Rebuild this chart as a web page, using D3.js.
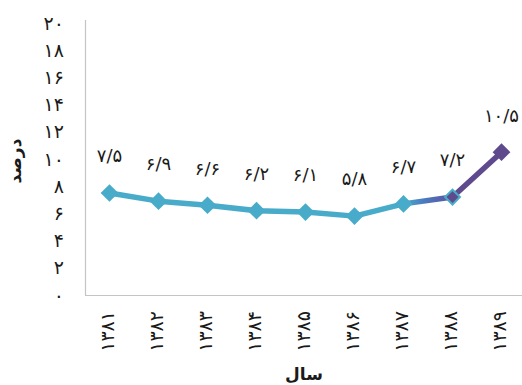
<!DOCTYPE html>
<html>
<head>
<meta charset="utf-8">
<script src="https://cdn.jsdelivr.net/npm/d3@7"></script>
<style>
  html, body { margin: 0; padding: 0; background: #fff; }
  svg { display: block; font-family: "DejaVu Sans", sans-serif; }
</style>
</head>
<body>
<svg id="chart" width="522" height="385"></svg>
<script>
// Years (Solar Hijri) and the yearly rate in percent
const years = ["۱۳۸۱", "۱۳۸۲", "۱۳۸۳", "۱۳۸۴", "۱۳۸۵", "۱۳۸۶", "۱۳۸۷", "۱۳۸۸", "۱۳۸۹"];
const values = [7.5, 6.9, 6.6, 6.2, 6.1, 5.8, 6.7, 7.2, 10.5];
const yTicks = [0, 2, 4, 6, 8, 10, 12, 14, 16, 18, 20];
const yTitle = "درصد";
const xTitle = "سال";

const faDigits = "۰۱۲۳۴۵۶۷۸۹";
const toFa = s => String(s).replace(/[0-9]/g, d => faDigits[+d]).replace(".", "/");

const teal = "#48abc9";
const purple = "#5e4a8c";
const ink = "#1a1a1a";

const svg = d3.select("#chart");
const plotLeft = 85, plotRight = 526, plotTop = 20, plotBottom = 295;

const x = d3.scaleBand().domain(years).range([plotLeft, plotRight]);
const cx = d => x(d) + x.bandwidth() / 2;
const y = d3.scaleLinear().domain([0, 20]).range([plotBottom, plotBottom - 272]);

// gradient for the line: teal, shifting into purple towards the last years
const defs = svg.append("defs");
const grad = defs.append("linearGradient")
  .attr("id", "lineGrad")
  .attr("gradientUnits", "userSpaceOnUse")
  .attr("x1", cx(years[6])).attr("x2", cx(years[8]))
  .attr("y1", 0).attr("y2", 0);
grad.append("stop").attr("offset", "0%").attr("stop-color", teal);
grad.append("stop").attr("offset", "22%").attr("stop-color", "#4b78bf");
grad.append("stop").attr("offset", "48%").attr("stop-color", "#5a56a0");
grad.append("stop").attr("offset", "55%").attr("stop-color", purple);
grad.append("stop").attr("offset", "100%").attr("stop-color", purple);

// axes lines
svg.append("line")
  .attr("x1", plotLeft + 0.5).attr("x2", plotLeft + 0.5)
  .attr("y1", plotTop).attr("y2", plotBottom)
  .attr("stroke", "#c4c4c4").attr("stroke-width", 1.2);
svg.append("line")
  .attr("x1", plotLeft).attr("x2", 522)
  .attr("y1", plotBottom + 0.5).attr("y2", plotBottom + 0.5)
  .attr("stroke", "#c4c4c4").attr("stroke-width", 1.2);

// y tick labels
svg.append("g").selectAll("text")
  .data(yTicks)
  .join("text")
  .attr("x", 64)
  .attr("y", d => y(d))
  .attr("dy", "0.35em")
  .attr("text-anchor", "end")
  .attr("font-size", 19)
  .attr("fill", ink)
  .text(d => toFa(d));

// y title
svg.append("text")
  .attr("transform", `translate(15,${y(10) + 2}) rotate(-90)`)
  .attr("text-anchor", "middle")
  .attr("dy", "0.35em")
  .attr("font-size", 17)
  .attr("font-weight", "bold")
  .attr("fill", ink)
  .text(yTitle);

// x tick labels (rotated)
svg.append("g").selectAll("text")
  .data(years)
  .join("text")
  .attr("transform", d => `translate(${cx(d) - 2},311) rotate(-90)`)
  .attr("text-anchor", "end")
  .attr("dy", "0.35em")
  .attr("font-size", 19)
  .attr("fill", ink)
  .text(d => d);

// x title
svg.append("text")
  .attr("x", 304)
  .attr("y", 380)
  .attr("text-anchor", "middle")
  .attr("font-size", 17)
  .attr("font-weight", "bold")
  .attr("fill", ink)
  .text(xTitle);

// line
const line = d3.line().x((d, i) => cx(years[i])).y(d => y(d));
svg.append("path")
  .datum(values)
  .attr("d", line)
  .attr("fill", "none")
  .attr("stroke", "url(#lineGrad)")
  .attr("stroke-width", 5.5)
  .attr("stroke-linejoin", "round");

// diamond markers
const diamond = d3.symbol().type(d3.symbolDiamond2).size(200);
const markers = svg.append("g");
markers.selectAll("path.m")
  .data(values)
  .join("path")
  .attr("class", "m")
  .attr("transform", (d, i) => `translate(${cx(years[i])},${y(d)})`)
  .attr("d", diamond)
  .attr("fill", (d, i) => i === values.length - 1 ? purple : teal);
// the second-to-last point carries a purple core
markers.append("path")
  .attr("transform", `translate(${cx(years[7])},${y(values[7])})`)
  .attr("d", d3.symbol().type(d3.symbolDiamond2).size(90)())
  .attr("fill", purple);

// value labels
svg.append("g").selectAll("text")
  .data(values)
  .join("text")
  .attr("x", (d, i) => cx(years[i]))
  .attr("y", d => y(d) - 37)
  .attr("dy", "0.35em")
  .attr("text-anchor", "middle")
  .attr("font-size", 18)
  .attr("fill", ink)
  .text(d => toFa(d));
</script>
</body>
</html>
